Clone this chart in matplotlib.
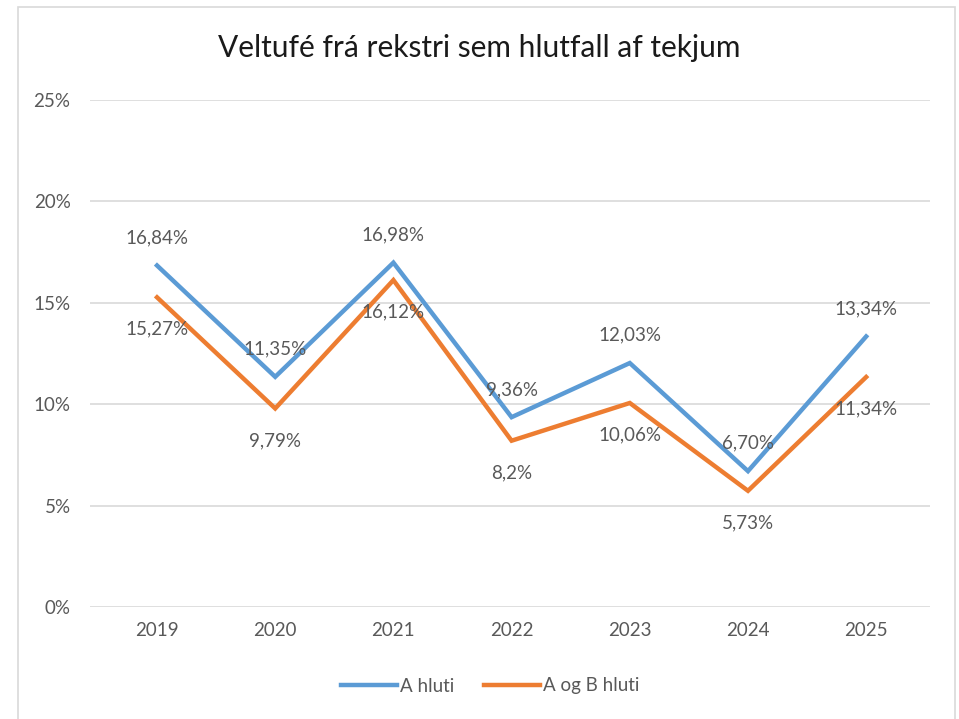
import matplotlib.pyplot as plt
from matplotlib.patches import Rectangle

plt.rcParams['font.family'] = ['Lato', 'DejaVu Sans']

years = ['2019', '2020', '2021', '2022', '2023', '2024', '2025']
a_hluti = [16.84, 11.35, 16.98, 9.36, 12.03, 6.70, 13.34]
a_og_b = [15.27, 9.79, 16.12, 8.2, 10.06, 5.73, 11.34]
a_labels = ['16,84%', '11,35%', '16,98%', '9,36%', '12,03%', '6,70%', '13,34%']
ab_labels = ['15,27%', '9,79%', '16,12%', '8,2%', '10,06%', '5,73%', '11,34%']

blue = '#5B9BD5'
orange = '#ED7D31'
grey = '#595959'

fig = plt.figure(figsize=(9.59, 7.19), dpi=100)
# outer frame of the chart
fig.patches.append(Rectangle((18 / 959, -0.01), 937 / 959, 1 - 7 / 719 + 0.01,
                             transform=fig.transFigure, fill=False,
                             edgecolor='#D9D9D9', linewidth=1.2))

ax = fig.add_axes([90 / 959, 1 - 607 / 719, 840 / 959, 507 / 719])
x = list(range(len(years)))
ax.plot(x, a_hluti, color=blue, linewidth=3.2, solid_joinstyle='miter', label='A hluti', zorder=3)
ax.plot(x, a_og_b, color=orange, linewidth=3.2, solid_joinstyle='miter', label='A og B hluti', zorder=3)

for i in x:
    ax.annotate(a_labels[i], (i, a_hluti[i]), xytext=(0, 20), textcoords='offset points',
                ha='center', va='center', fontsize=13.5, color=grey, zorder=4)
    ax.annotate(ab_labels[i], (i, a_og_b[i]), xytext=(0, -23), textcoords='offset points',
                ha='center', va='center', fontsize=13.5, color=grey, zorder=4)

ax.set_ylim(0, 25)
ax.set_xlim(-0.567, 6.54)
ax.set_yticks([0, 5, 10, 15, 20, 25])
ax.set_yticklabels(['0%', '5%', '10%', '15%', '20%', '25%'])
ax.set_xticks(x)
ax.set_xticklabels(years)
ax.tick_params(length=0, labelsize=13.5, labelcolor=grey, pad=14)
ax.tick_params(axis='x', pad=11)
ax.grid(axis='y', color='#D9D9D9', linewidth=1.2)
ax.set_axisbelow(True)
for s in ax.spines.values():
    s.set_visible(False)

fig.text(0.5, 1 - 48 / 719, 'Veltufé frá rekstri sem hlutfall af tekjum', ha='center', va='center',
         fontsize=21.5, color='#1a1a1a')

fig.legend(loc='center', bbox_to_anchor=(490 / 959, 1 - 686 / 719), ncol=2, frameon=False,
           fontsize=13.5, labelcolor=grey, handlelength=3.0, handletextpad=0.15, columnspacing=1.6)

fig.savefig('out.png', dpi=100)
